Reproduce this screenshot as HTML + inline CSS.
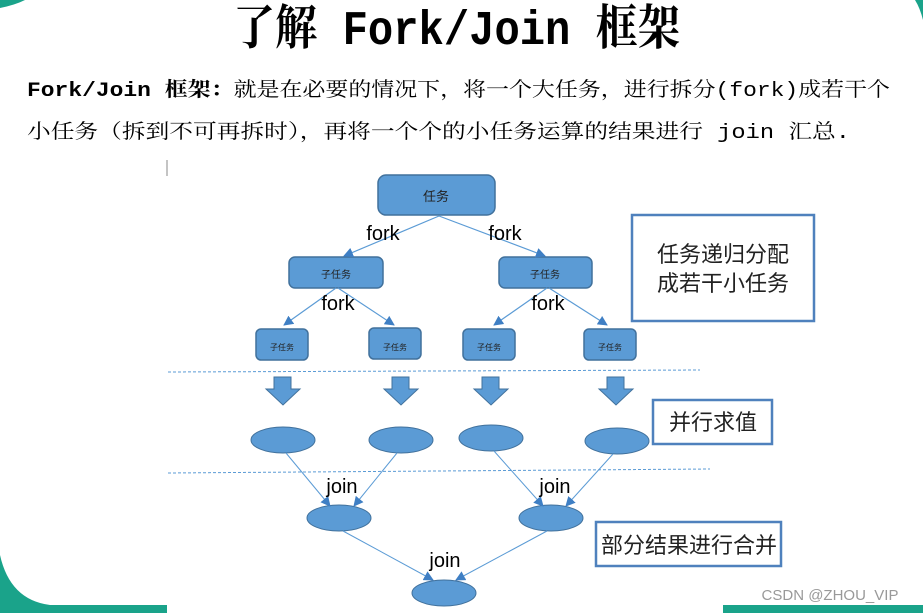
<!DOCTYPE html>
<html><head><meta charset="utf-8"><style>
html,body{margin:0;padding:0;background:#fff;}
svg{display:block;}
.cjk{font-family:"Liberation Mono","Noto Serif CJK SC",serif;}
.s{font-family:"Liberation Sans","Noto Sans CJK SC",sans-serif;}
</style></head><body>
<svg width="923" height="613" viewBox="0 0 923 613" xmlns="http://www.w3.org/2000/svg">
<defs>
<marker id="ah" markerWidth="10" markerHeight="10" refX="9" refY="5" orient="auto" markerUnits="userSpaceOnUse">
<path d="M0,0 L10,5 L0,10 z" fill="#3f7fc4"/></marker>
</defs>
<path d="M0,555 Q10,600 50,605 L167,605 L167,613 L0,613 z" fill="#1aa38a"/>
<rect x="723" y="605" width="200" height="8" fill="#1aa38a"/>
<path d="M0,0 L25,0 Q15,5 0,8 z" fill="#1aa38a"/>
<path d="M915,0 L923,0 L923,20 Q920,8 915,0 z" fill="#1aa38a"/>

<text x="233" y="44" font-size="48" font-weight="bold" class="cjk" textLength="447" lengthAdjust="spacingAndGlyphs">了解 Fork/Join 框架</text>
<text x="27" y="96" font-size="20" class="cjk" textLength="863" lengthAdjust="spacingAndGlyphs"><tspan font-weight="bold">Fork/Join 框架：</tspan>就是在必要的情况下，将一个大任务，进行拆分(fork)成若干个</text>
<text x="27" y="138" font-size="20" class="cjk" textLength="823" lengthAdjust="spacingAndGlyphs">小任务（拆到不可再拆时），再将一个个的小任务运算的结果进行 join 汇总.</text>
<line x1="167" y1="160" x2="167" y2="176" stroke="#888" stroke-width="1"/>

<g fill="#5b9bd5" stroke="#41719c" stroke-width="1.5">
<rect x="378" y="175" width="117" height="40" rx="8"/>
<rect x="289" y="257" width="94" height="31" rx="6"/>
<rect x="499" y="257" width="93" height="31" rx="6"/>
<rect x="256" y="329" width="52" height="31" rx="5"/>
<rect x="369" y="328" width="52" height="31" rx="5"/>
<rect x="463" y="329" width="52" height="31" rx="5"/>
<rect x="584" y="329" width="52" height="31" rx="5"/>
</g>
<g class="s" fill="#222" text-anchor="middle">
<text x="436" y="201" font-size="13">任务</text>
<text x="336" y="278" font-size="10">子任务</text>
<text x="545" y="278" font-size="10">子任务</text>
<text x="282" y="350" font-size="8">子任务</text>
<text x="395" y="350" font-size="8">子任务</text>
<text x="489" y="350" font-size="8">子任务</text>
<text x="610" y="350" font-size="8">子任务</text>
</g>
<g stroke="#5b9bd5" stroke-width="1.2" marker-end="url(#ah)">
<line x1="439" y1="216" x2="344" y2="256"/>
<line x1="439" y1="216" x2="545" y2="256"/>
<line x1="336" y1="288" x2="284" y2="325"/>
<line x1="338" y1="288" x2="394" y2="325"/>
<line x1="547" y1="288" x2="494" y2="325"/>
<line x1="549" y1="288" x2="607" y2="325"/>
</g>
<g class="s" font-size="20" fill="#000" text-anchor="middle">
<text x="383" y="240">fork</text>
<text x="505" y="240">fork</text>
<text x="338" y="310">fork</text>
<text x="548" y="310">fork</text>
</g>

<line x1="168" y1="372" x2="700" y2="370" stroke="#5b9bd5" stroke-width="1" stroke-dasharray="3,2"/>
<line x1="168" y1="473" x2="710" y2="469" stroke="#5b9bd5" stroke-width="1" stroke-dasharray="3,2"/>

<g fill="#5b9bd5" stroke="#41719c" stroke-width="1">
<path d="M274,377 h17 v12 h9 l-17,16 l-17,-16 h8 z"/>
<path d="M392,377 h17 v12 h9 l-17,16 l-17,-16 h8 z"/>
<path d="M482,377 h17 v12 h9 l-17,16 l-17,-16 h8 z"/>
<path d="M607,377 h17 v12 h9 l-17,16 l-17,-16 h8 z"/>
<ellipse cx="283" cy="440" rx="32" ry="13"/>
<ellipse cx="401" cy="440" rx="32" ry="13"/>
<ellipse cx="491" cy="438" rx="32" ry="13"/>
<ellipse cx="617" cy="441" rx="32" ry="13"/>
<ellipse cx="339" cy="518" rx="32" ry="13"/>
<ellipse cx="551" cy="518" rx="32" ry="13"/>
<ellipse cx="444" cy="593" rx="32" ry="13"/>
</g>
<g stroke="#5b9bd5" stroke-width="1" marker-end="url(#ah)">
<line x1="286" y1="453" x2="330" y2="506"/>
<line x1="397" y1="453" x2="354" y2="506"/>
<line x1="494" y1="451" x2="543" y2="506"/>
<line x1="613" y1="454" x2="566" y2="506"/>
<line x1="343" y1="531" x2="433" y2="580"/>
<line x1="547" y1="531" x2="456" y2="580"/>
</g>
<g class="s" font-size="20" fill="#000" text-anchor="middle">
<text x="342" y="493">join</text>
<text x="555" y="493">join</text>
<text x="445" y="567">join</text>
</g>

<g fill="#fff" stroke="#4f81bd" stroke-width="2.5">
<rect x="632" y="215" width="182" height="106"/>
<rect x="653" y="400" width="119" height="44"/>
<rect x="596" y="522" width="185" height="44"/>
</g>
<g class="s" font-size="22" fill="#222" text-anchor="middle">
<text x="723" y="262">任务递归分配</text>
<text x="723" y="291">成若干小任务</text>
<text x="713" y="430">并行求值</text>
<text x="689" y="553">部分结果进行合并</text>
</g>
<text x="830" y="600" class="s" font-size="15" fill="#999" text-anchor="middle">CSDN @ZHOU_VIP</text>
</svg>
</body></html>
